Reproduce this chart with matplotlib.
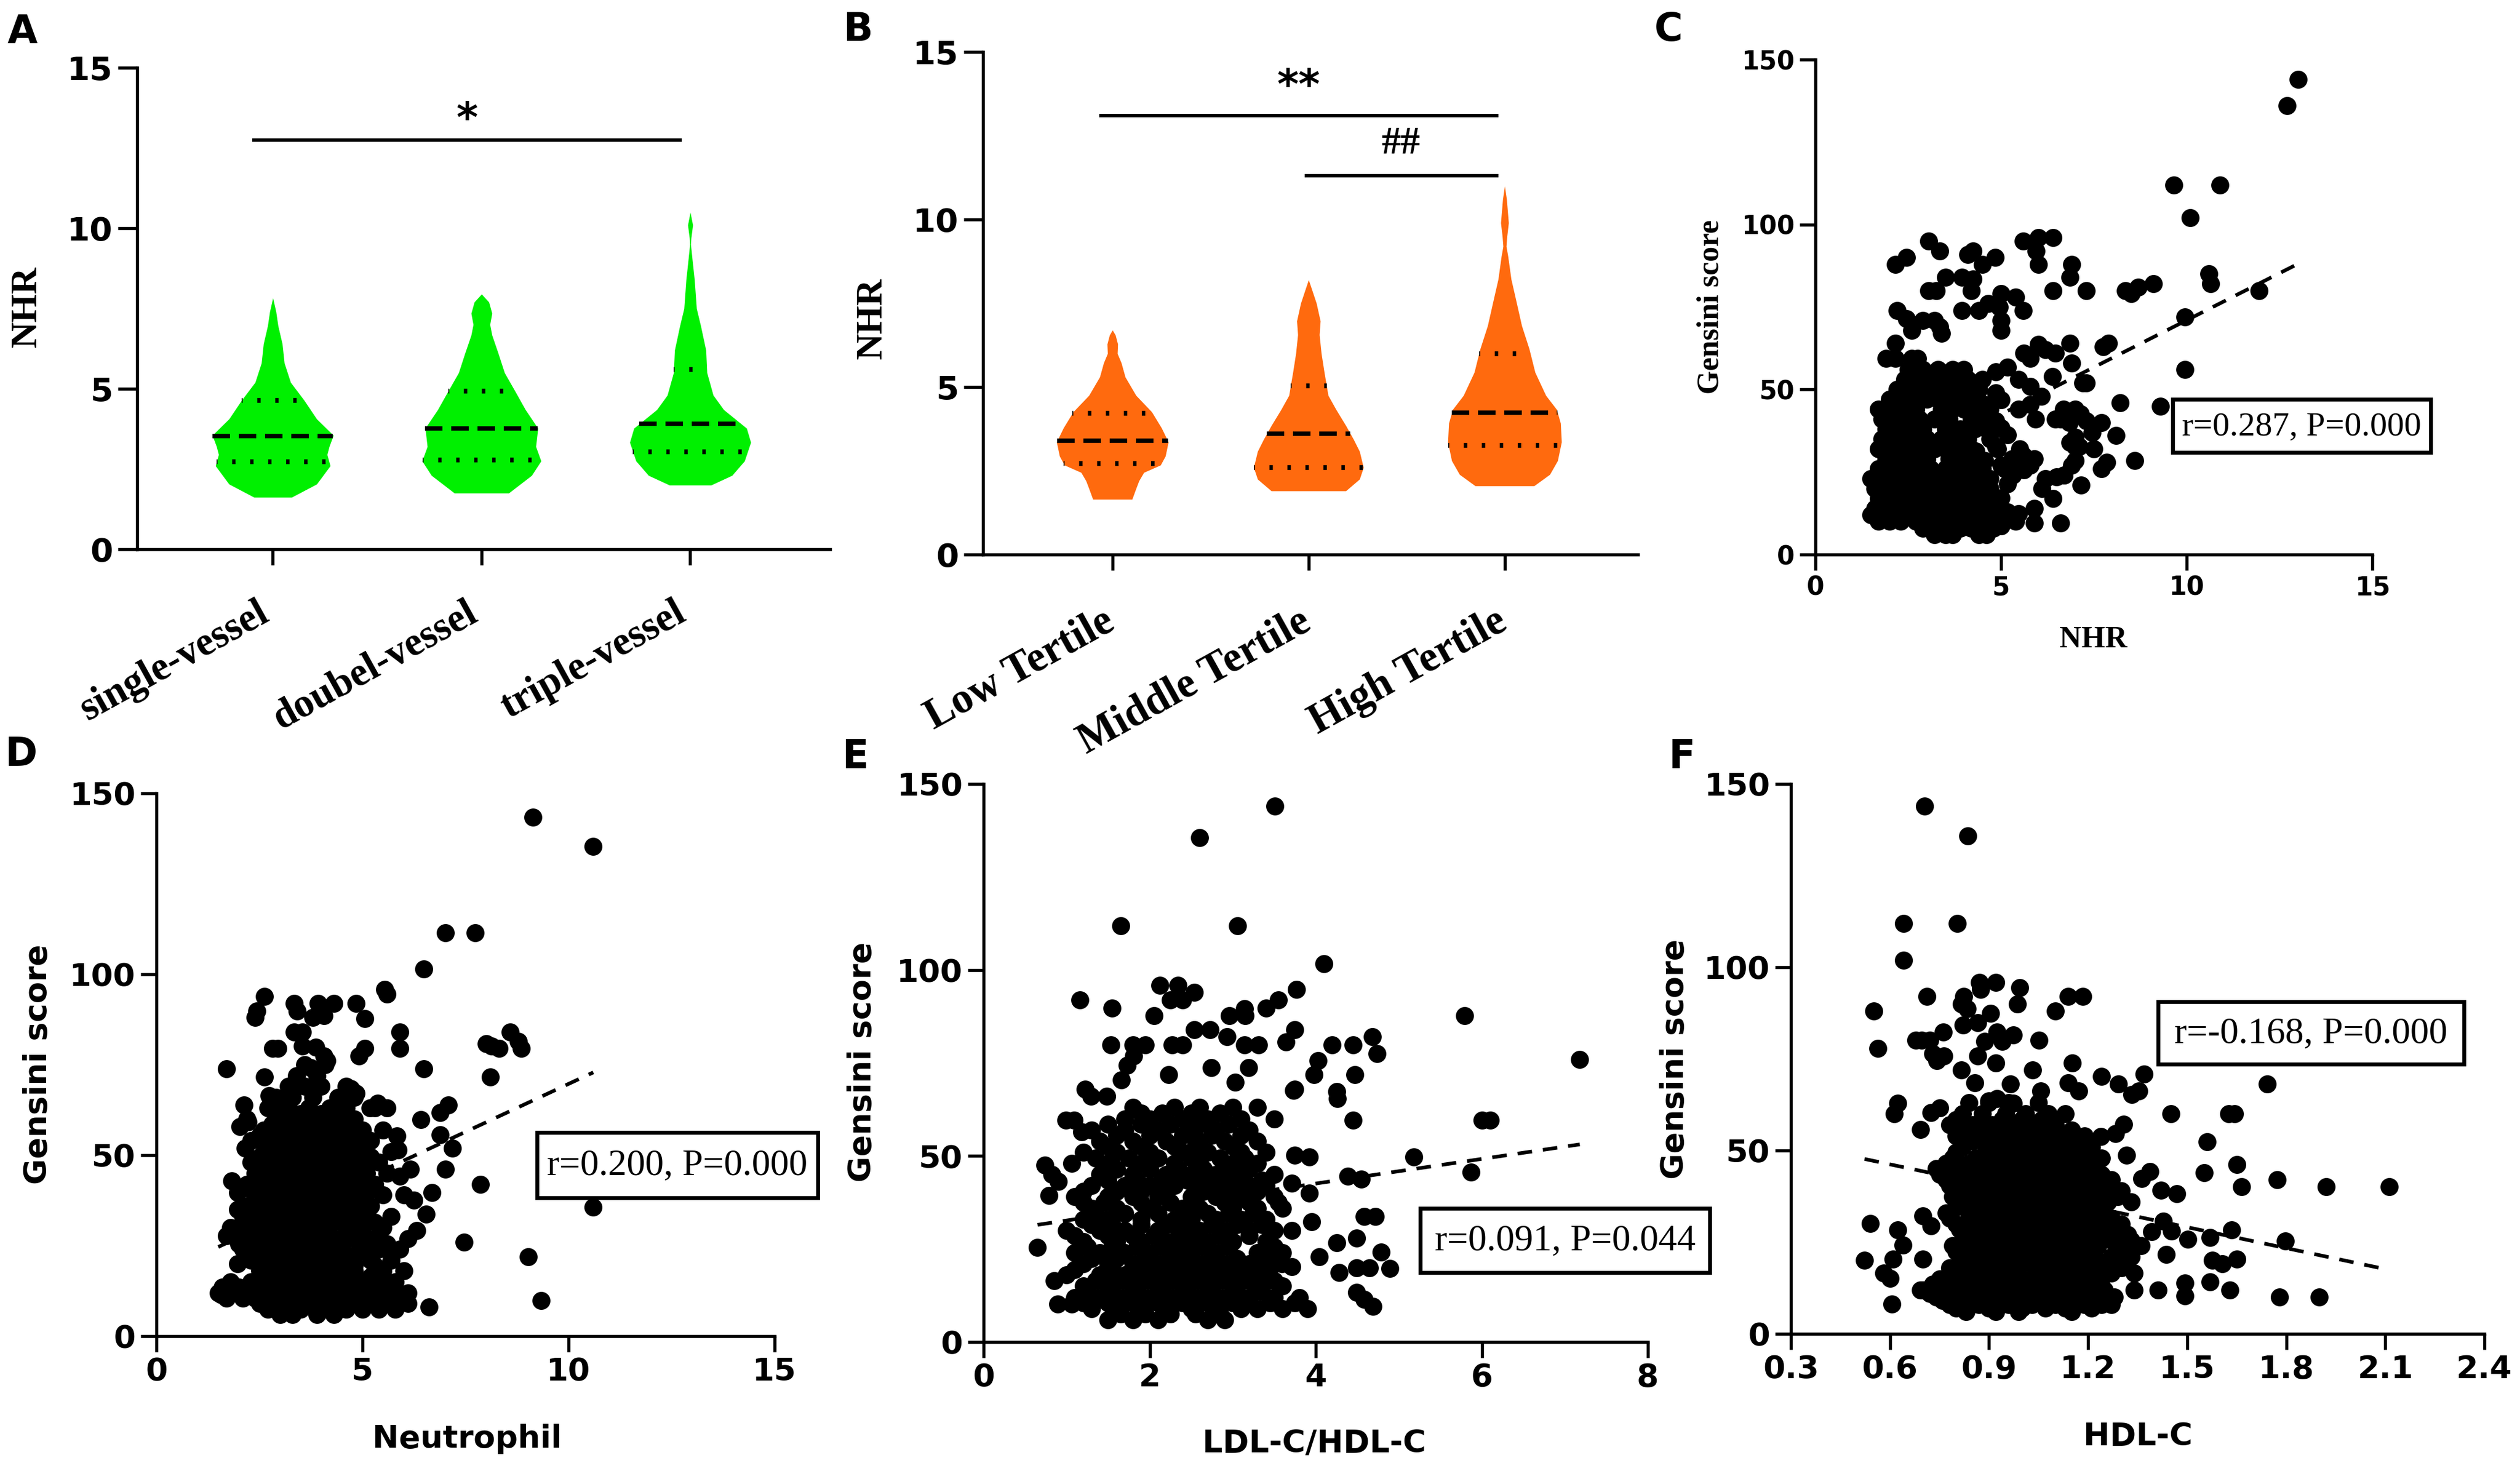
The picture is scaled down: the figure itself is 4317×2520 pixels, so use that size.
import numpy as np
import matplotlib
matplotlib.use("Agg")
import matplotlib.pyplot as plt
from matplotlib.patches import Rectangle
from matplotlib.transforms import ScaledTranslation

# ---------------- data ----------------
# panel A: NHR by number of diseased vessels (violin outlines + quartiles)
a_groups = ["single-vessel", "doubel-vessel", "triple-vessel"]
a1_y = [1.62, 2.03, 2.6, 2.95, 3.2, 3.55, 4.06, 4.64, 5.2, 5.8, 6.4, 6.96, 7.4, 7.83]
a1_w = [0.09, 0.21, 0.275, 0.26, 0.27, 0.29, 0.21, 0.15, 0.085, 0.055, 0.045, 0.025, 0.015, 0.0]
a2_y = [1.75, 2.3, 2.75, 3.2, 3.77, 4.35, 4.93, 5.5, 6.1, 6.67, 7.0, 7.35, 7.7, 7.95]
a2_w = [0.13, 0.24, 0.285, 0.26, 0.27, 0.21, 0.16, 0.11, 0.08, 0.05, 0.04, 0.05, 0.035, 0.0]
a3_y = [2.0, 2.3, 2.75, 3.33, 3.77, 4.35, 4.8, 5.5, 6.2, 6.96, 7.5, 8.4, 9.0, 9.5, 9.7, 10.1, 10.5]
a3_w = [0.1, 0.2, 0.26, 0.29, 0.27, 0.16, 0.11, 0.08, 0.075, 0.05, 0.03, 0.02, 0.01, 0.002, 0.004, 0.012, 0.0]
a_median = [3.52, 3.77, 3.91]
a_q1 = [2.72, 2.78, 3.04]
a_q3 = [4.64, 4.93, 5.6]

# panel B: NHR by Gensini tertile
b_groups = ["Low Tertile", "Middle Tertile", "High Tertile"]
b1_y = [1.65, 1.97, 2.2, 2.45, 2.67, 2.94, 3.36, 3.78, 4.26, 4.75, 5.3, 5.72, 6.0, 6.28, 6.55, 6.7]
b1_w = [0.1, 0.12, 0.135, 0.16, 0.245, 0.27, 0.285, 0.25, 0.2, 0.12, 0.065, 0.045, 0.025, 0.027, 0.015, 0.0]
b2_y = [1.9, 2.25, 2.6, 3.08, 3.43, 3.85, 4.33, 4.75, 5.44, 6.0, 6.56, 6.97, 7.5, 7.94, 8.2]
b2_w = [0.19, 0.26, 0.28, 0.26, 0.23, 0.19, 0.14, 0.1, 0.08, 0.065, 0.055, 0.06, 0.04, 0.015, 0.0]
b3_y = [2.05, 2.39, 2.8, 3.36, 3.92, 4.33, 4.75, 5.44, 6.14, 6.83, 7.53, 8.22, 8.9, 9.2, 9.5, 9.9, 10.6, 11.0]
b3_w = [0.15, 0.23, 0.27, 0.29, 0.285, 0.265, 0.21, 0.155, 0.125, 0.087, 0.06, 0.033, 0.017, 0.008, 0.012, 0.02, 0.01, 0.0]
b_median = [3.39, 3.61, 4.24]
b_q1 = [2.72, 2.6, 3.25]
b_q3 = [4.22, 5.03, 6.0]

# panel C: Gensini score vs NHR
c_pts = [(13.0, 144), (12.7, 136), (9.65, 112), (10.9, 112), (10.1, 102), (9.95, 56), (9.95, 72),
         (10.6, 85), (10.65, 82), (11.95, 80), (9.3, 45), (8.6, 28.5), (9.1, 82), (8.7, 81), (8.5, 79),
         (8.35, 80), (8.2, 46), (8.1, 36), (7.85, 28), (7.7, 26), (7.7, 40), (7.5, 32), (7.15, 21),
         (7.3, 52), (7.2, 52), (7.0, 44), (6.9, 58), (6.85, 64), (6.9, 88), (6.85, 84), (7.3, 80),
         (7.75, 63), (7.9, 64), (6.4, 96), (6.0, 96), (5.6, 95), (6.0, 88), (5.95, 92), (6.4, 80),
         (6.6, 9.5), (6.4, 17), (6.7, 24), (6.85, 34), (7.0, 28.5), (5.9, 9.5), (5.9, 14), (5.4, 78),
         (5.6, 74), (5.0, 79), (4.95, 75), (5.0, 71), (5.0, 68), (4.85, 90), (4.5, 88), (4.25, 92),
         (4.1, 91), (3.95, 84), (3.35, 92), (3.05, 95), (2.15, 88), (2.45, 90), (3.05, 80), (3.25, 80),
         (3.5, 84), (4.2, 80), (4.25, 83.5), (3.95, 74), (4.4, 74), (4.65, 76), (2.2, 74), (2.45, 71.5),
         (2.6, 68), (2.9, 71), (3.2, 71), (3.35, 69), (3.4, 67), (2.15, 64), (2.15, 59.5), (2.6, 59.5),
         (2.75, 59.5), (1.9, 59.5),
         (6.0, 63.7), (6.2, 62), (6.46, 61), (5.78, 59.5), (5.62, 61), (5.17, 56.7), (4.86, 55.3),
         (5.47, 53), (5.78, 51), (6.38, 54), (6.08, 48), (5.78, 45.4), (5.47, 44), (5.0, 46.8),
         (4.86, 49), (4.56, 45.4), (4.48, 41), (4.86, 40.5), (5.0, 38.4), (5.17, 36.2), (5.93, 41),
         (6.46, 41), (6.69, 44), (6.6, 41), (6.84, 40), (7.14, 42.6), (7.3, 40.5), (7.45, 37),
         (7.0, 35.5), (7.0, 32.7), (7.1, 32.7), (6.9, 27), (6.7, 24), (6.5, 23.5), (6.2, 23),
         (6.1, 20), (5.78, 27), (5.6, 30), (5.47, 28.5), (5.62, 25.7), (5.32, 24), (5.0, 27),
         (5.17, 21.4), (5.0, 17.2), (4.7, 14.4), (4.86, 11.6), (5.17, 13), (5.32, 11), (5.47, 12.3),
         (4.56, 8.7), (4.4, 6), (5.0, 8.7), (4.33, 31.3), (4.7, 35), (4.56, 38.4), (4.26, 44),
         (4.86, 32.7), (4.56, 28.5), (4.26, 23), (4.7, 20)]
c_rows = [(6, [3.2, 3.5, 3.7, 4.6]),
          (8, [2.9, 3.3, 3.6, 3.9, 4.2, 4.8]),
          (10, [1.7, 2.0, 2.3, 2.7, 3.0, 3.4, 3.8, 4.1, 4.4, 5.1, 5.4]),
          (12, [1.5, 1.8, 2.2, 2.5, 2.8, 3.1, 3.5, 3.9, 4.3, 4.6, 5.3]),
          (14, [1.6, 2.0, 2.4, 2.7, 3.0, 3.3, 3.7, 4.0, 4.5, 4.9]),
          (17, [1.7, 2.1, 2.5, 2.8, 3.2, 3.6, 3.9, 4.2, 4.6]),
          (20, [1.6, 1.9, 2.3, 2.6, 3.0, 3.4, 3.7, 4.1, 4.4]),
          (23, [1.5, 1.8, 2.2, 2.5, 2.9, 3.3, 3.6, 4.0, 4.3, 4.7]),
          (26, [1.7, 2.0, 2.4, 2.7, 3.1, 3.5, 3.8, 4.2, 4.5, 5.1, 5.6]),
          (29, [1.9, 2.3, 2.6, 3.0, 3.6, 3.9, 4.3, 5.3, 5.9]),
          (32, [1.7, 2.1, 2.5, 2.8, 3.2, 3.5, 3.9, 4.2, 4.9, 5.5]),
          (35, [1.8, 2.2, 2.6, 3.0, 3.4, 3.8, 4.1]),
          (38, [1.9, 2.3, 2.7, 2.9, 3.5, 3.9, 4.3]),
          (41, [1.8, 2.2, 2.5, 2.8, 3.2, 3.6, 4.2, 4.5]),
          (44, [1.7, 2.1, 2.4, 2.7, 3.4, 3.7, 4.0, 4.3, 4.7]),
          (47, [2.0, 2.3, 2.6, 3.0, 3.3, 3.6, 3.9, 4.2]),
          (50, [2.2, 2.6, 2.9, 3.2, 3.6, 4.0, 4.4]),
          (53, [2.4, 2.7, 3.1, 3.4, 3.8, 4.1, 4.5]),
          (56, [2.5, 2.9, 3.3, 3.7, 4.0])]
c_fit = (5.7, 14.0)          # slope, intercept of dashed line
c_stat = "r=0.287, P=0.000"

# panel D: Gensini score vs neutrophil
d_pts = [(9.13, 143.4), (10.59, 135.3), (7.01, 111.5), (7.73, 111.5), (6.49, 101.4), (5.54, 95.8),
         (5.6, 94.5), (8.58, 84), (8.78, 81.4), (8.0, 80.8), (8.13, 80.1), (8.32, 79.5), (8.85, 79.5),
         (5.9, 84), (5.9, 79.5), (6.49, 73.9), (8.1, 71.6), (7.08, 63.8), (6.88, 61.8), (6.42, 59.9),
         (6.88, 55.6), (7.18, 52), (7.01, 46.1), (7.86, 42), (10.6, 35.7), (7.47, 25.9), (9.02, 22),
         (9.34, 9.9), (6.62, 8), (6.68, 39.6), (6.55, 33.7), (6.32, 29.2), (6.25, 37.6), (6.16, 46.1),
         (5.9, 44.2), (5.86, 51.4), (5.83, 55.3), (5.6, 63.1), (5.37, 64.4), (5.18, 63.1), (4.85, 67.1),
         (4.72, 68.4), (1.7, 73.9), (4.85, 91.9), (5.05, 87.7), (4.92, 77.5), (5.05, 79.5), (2.62, 93.9),
         (2.43, 89.9), (2.39, 88), (3.34, 91.9), (3.41, 89.9), (3.93, 91.9), (4.3, 91.9), (3.8, 88),
         (4.06, 88.6), (3.34, 84), (3.54, 84), (2.82, 79.5), (2.95, 79.5), (3.54, 80.1), (3.87, 79.9),
         (4.06, 77.5), (4.13, 76.2), (2.62, 71.6), (3.74, 74.2), (2.73, 66.4), (2.12, 63.8),
         (2.23, 59.2), (2.03, 57.9), (2.16, 52), (1.83, 42.9), (1.97, 39.6), (1.97, 35), (2.1, 33.1),
         (1.7, 27.8), (1.97, 20), (1.57, 11.5)]
d_rows = [(6, [3.0, 3.3, 3.9, 4.3]),
          (7.5, [2.7, 3.1, 3.5, 4.1, 4.6, 5.0, 5.4, 5.8]),
          (9, [2.5, 2.8, 3.2, 3.6, 4.0, 4.4, 4.8, 5.2, 5.6, 6.1]),
          (10.5, [1.7, 2.1, 2.4, 2.75, 3.1, 3.5, 3.9, 4.3, 4.7, 5.1, 5.5, 5.9]),
          (12, [1.5, 1.9, 2.2, 2.6, 2.9, 3.3, 3.7, 4.1, 4.5, 4.9, 5.3, 5.7, 6.1]),
          (13.5, [1.6, 2.0, 2.5, 2.85, 3.2, 3.6, 4.0, 4.4, 4.8, 5.2, 5.6]),
          (15, [1.8, 2.3, 2.7, 3.0, 3.4, 3.8, 4.2, 4.6, 5.0, 5.4, 5.8]),
          (16.5, [2.6, 3.0, 3.4, 3.8, 4.2, 4.6, 5.2]),
          (18, [2.5, 2.8, 3.2, 3.6, 4.0, 4.4, 4.8, 5.5, 6.0]),
          (19.5, [2.5, 2.9, 3.2, 3.6, 4.0, 4.4, 4.8, 5.3]),
          (21, [2.3, 2.7, 3.0, 3.4, 3.8, 4.2, 4.6, 5.2, 5.7]),
          (22.5, [2.4, 2.8, 3.2, 3.6, 4.0, 4.4, 4.8]),
          (24, [2.1, 2.5, 2.9, 3.3, 3.7, 4.1, 4.5, 5.0, 5.4, 5.9]),
          (25.5, [2.0, 2.5, 2.9, 3.2, 3.6, 4.0, 4.4, 5.1, 5.6]),
          (27, [2.3, 2.7, 3.1, 3.5, 3.9, 4.3, 4.8, 5.3, 6.1]),
          (28.5, [2.1, 2.5, 2.9, 3.3, 3.7, 4.1, 4.6]),
          (30, [1.8, 2.6, 2.9, 3.3, 3.7, 4.1, 4.6, 5.0, 5.5]),
          (31.5, [2.2, 2.6, 3.0, 3.5, 3.9, 4.3, 4.8, 5.3]),
          (33, [2.4, 2.8, 3.2, 3.6, 4.0, 4.4, 4.9, 5.7]),
          (34.5, [2.6, 3.0, 3.4, 3.8, 4.2, 4.6, 5.1]),
          (36, [2.2, 2.6, 3.0, 3.4, 3.8, 4.2, 4.7, 5.2]),
          (37.5, [2.4, 2.8, 3.2, 3.6, 4.0, 4.4, 4.9]),
          (39, [2.5, 2.9, 3.3, 3.6, 4.1, 4.5, 5.0, 5.5, 6.0]),
          (40.5, [2.3, 2.7, 3.1, 3.5, 3.9, 4.3, 4.7, 5.2]),
          (42, [2.2, 2.7, 3.1, 3.5, 3.9, 4.3, 4.8, 5.3]),
          (43.5, [2.5, 2.9, 3.3, 3.7, 4.1, 4.5, 5.0]),
          (45, [2.4, 2.8, 3.2, 3.7, 4.1, 4.6, 5.1, 5.6]),
          (46.5, [2.6, 3.0, 3.4, 3.9, 4.3, 4.8]),
          (48, [2.3, 2.7, 3.0, 3.5, 3.9, 4.4, 4.9, 5.4]),
          (49.5, [2.5, 2.9, 3.3, 3.8, 4.2, 4.7, 5.2]),
          (51, [2.6, 3.1, 3.5, 4.0, 4.5, 5.0, 5.7]),
          (52.5, [2.8, 3.3, 3.7, 4.2, 4.6]),
          (54, [2.3, 2.8, 3.3, 3.8, 4.3, 4.7, 5.2]),
          (55.5, [2.5, 3.0, 3.5, 4.0, 4.9]),
          (57, [2.6, 3.1, 3.6, 4.1, 4.5, 5.0, 5.5]),
          (58.5, [2.8, 3.3, 3.8, 4.2, 4.7]),
          (60, [2.2, 2.9, 3.4, 3.9, 4.3, 4.8]),
          (61.5, [3.0, 3.5, 4.0, 4.4]),
          (63, [2.7, 3.2, 3.7, 4.2, 4.6, 5.3]),
          (66, [2.9, 3.3, 3.8, 4.4, 4.8]),
          (69, [3.2, 3.6, 4.0, 4.6]),
          (72, [3.4, 3.9]),
          (75, [3.6, 4.1])]
d_fit = (5.3, 16.7)
d_stat = "r=0.200, P=0.000"

# panel E: Gensini score vs LDL-C/HDL-C
e_pts = [(3.51, 144), (2.6, 135.6), (1.65, 111.8), (3.06, 111.8), (4.1, 101.7), (5.79, 87.7),
         (7.18, 75.9), (6.0, 59.7), (6.1, 59.7), (5.18, 49.8), (5.87, 45.7), (1.16, 91.9), (1.55, 89.8),
         (2.12, 95.9), (2.34, 95.9), (2.54, 94), (2.05, 87.7), (2.25, 91.9), (2.4, 91.9), (2.54, 83.9),
         (2.73, 83.9), (2.93, 82), (2.96, 87.7), (3.14, 89.6), (3.15, 87.7), (3.4, 89.8), (3.55, 91.9),
         (3.77, 94.7), (3.75, 83.9), (3.64, 80.7), (3.31, 79.8), (3.14, 79.8), (1.53, 79.8), (1.8, 79.8),
         (1.95, 79.8), (2.27, 79.8), (2.4, 79.8), (1.81, 76.9), (1.73, 74.3), (1.66, 70.5), (2.23, 71.8),
         (2.74, 73.7), (3.19, 73.7), (3.03, 69.9), (4.03, 75.6), (3.98, 71.8), (4.2, 79.8), (4.45, 79.8),
         (4.68, 82), (4.74, 77.5), (4.47, 71.8), (3.73, 67.6), (4.25, 67.3), (4.26, 65.4), (4.45, 59.7),
         (4.39, 44.5), (4.55, 43.8), (4.58, 33.7), (4.72, 33.7), (4.25, 26.7), (4.28, 18.7), (4.49, 28),
         (4.49, 19.9), (4.65, 19.9), (4.79, 24.1), (4.89, 19.7), (4.49, 13.3), (4.58, 11.4), (4.69, 9.5),
         (4.04, 22.9), (3.95, 32.4), (3.92, 40), (3.71, 29.9), (3.59, 21), (3.71, 20.3), (3.75, 50.2),
         (3.92, 49.8), (3.71, 42.6), (3.75, 68), (1.22, 68), (1.29, 66.1), (1.48, 66.1), (0.99, 59.7),
         (1.09, 59.7), (1.18, 56.5), (0.74, 47.6), (0.82, 45.1), (0.9, 43.2), (0.79, 39.4), (0.65, 25.4),
         (1.06, 48), (0.85, 16.5), (0.89, 10.2), (1.06, 10.2)]
e_rows = [(6, [1.5, 1.8, 2.1, 2.7, 2.9]),
          (7.5, [1.65, 1.95, 2.25, 2.55, 2.85]),
          (9, [1.3, 1.6, 1.9, 2.2, 2.5, 2.8, 3.1, 3.3, 3.6, 3.9]),
          (10.5, [1.2, 1.5, 1.8, 2.1, 2.4, 2.7, 3.0, 3.45, 3.75]),
          (12, [1.1, 1.4, 1.7, 2.0, 2.3, 2.6, 2.9, 3.2, 3.5, 3.8]),
          (13.5, [1.25, 1.55, 1.85, 2.15, 2.45, 2.75, 3.05, 3.35]),
          (15, [1.2, 1.5, 1.8, 2.1, 2.4, 2.7, 3.0, 3.3, 3.6]),
          (16.5, [1.35, 1.65, 1.95, 2.25, 2.55, 2.85, 3.2, 3.5]),
          (18, [1.0, 1.4, 1.7, 2.0, 2.3, 2.5, 2.8, 3.1, 3.4]),
          (19.5, [1.1, 1.55, 1.85, 2.15, 2.45, 2.65, 2.95, 3.3]),
          (21, [1.2, 1.5, 1.8, 2.1, 2.4, 2.6, 2.9, 3.2, 3.5]),
          (22.5, [1.3, 1.6, 1.95, 2.25, 2.5, 2.75, 3.05, 3.4]),
          (24, [1.1, 1.4, 1.7, 2.0, 2.3, 2.5, 2.8, 3.3, 3.6]),
          (25.5, [1.25, 1.55, 1.85, 2.15, 2.4, 2.65, 2.95, 3.5]),
          (27, [1.2, 1.6, 1.9, 2.2, 2.5, 2.7, 3.0, 3.4]),
          (28.5, [1.1, 1.5, 1.8, 2.05, 2.35, 2.6, 2.85, 3.2]),
          (30, [1.0, 1.4, 1.7, 2.1, 2.4, 2.6, 2.9, 3.2, 3.5]),
          (31.5, [1.3, 1.55, 1.9, 2.2, 2.5, 2.75, 3.05, 3.35]),
          (33, [1.2, 1.5, 1.9, 2.3, 2.5, 2.8, 3.1, 3.4]),
          (34.5, [1.35, 1.7, 2.1, 2.45, 2.7, 2.95, 3.25]),
          (36, [1.3, 1.6, 2.0, 2.4, 2.6, 3.0, 3.3, 3.6]),
          (37.5, [1.2, 1.45, 1.9, 2.25, 2.55, 2.9, 3.2, 3.55]),
          (39, [1.1, 1.5, 1.8, 2.1, 2.5, 2.8, 3.1, 3.5]),
          (40.5, [1.2, 1.6, 1.9, 2.2, 2.65, 2.95, 3.3]),
          (42, [1.3, 1.7, 2.0, 2.3, 2.6, 2.9, 3.2, 3.4]),
          (43.5, [1.5, 1.85, 2.15, 2.45, 2.75, 3.05, 3.35]),
          (45, [1.4, 1.8, 2.2, 2.5, 2.8, 3.1, 3.5]),
          (46.5, [1.6, 2.0, 2.35, 2.65, 2.95, 3.2]),
          (48, [1.5, 1.9, 2.3, 2.6, 3.0, 3.3]),
          (49.5, [1.35, 1.75, 2.1, 2.5, 2.85, 3.15]),
          (51, [1.2, 1.6, 2.0, 2.4, 2.7, 3.1, 3.4]),
          (52.5, [1.5, 1.9, 2.3, 2.55, 3.0]),
          (54, [1.4, 1.8, 2.2, 2.6, 2.9, 3.3]),
          (55.5, [1.6, 2.0, 2.4, 2.75, 3.1]),
          (57, [1.3, 1.7, 2.1, 2.5, 2.8, 3.2]),
          (58.5, [1.5, 1.9, 2.25, 2.6, 2.95]),
          (60, [1.7, 2.0, 2.4, 2.7, 3.1, 3.5]),
          (61.5, [1.9, 2.15, 2.5, 2.85]),
          (63, [1.8, 2.3, 2.6, 3.0, 3.3])]
e_fit = (3.31, 29.35)
e_stat = "r=0.091, P=0.044"

# panel F: Gensini score vs HDL-C
f_pts = [(0.704, 143.9), (0.836, 135.8), (0.642, 112), (0.803, 112), (0.642, 101.9), (0.551, 88),
         (0.563, 77.8), (0.712, 92), (0.92, 95.8), (0.874, 94.5), (0.993, 94.5), (0.985, 90), (1.1, 88.1),
         (1.139, 92), (1.183, 92), (1.051, 80.1), (1.031, 72), (1.152, 73.9), (1.172, 66.2),
         (1.139, 68.4), (1.056, 66.2), (1.241, 70.3), (1.291, 68.1), (1.332, 65.3), (1.353, 66.2),
         (1.37, 70.9), (1.742, 68.1), (1.45, 60.1), (1.626, 60.1), (1.643, 60.1), (1.56, 52.4),
         (1.651, 46.2), (1.552, 44), (1.664, 40.1), (1.772, 42), (1.921, 40.1), (2.111, 40.1),
         (1.469, 38.2), (1.797, 25.3), (1.569, 26.2), (1.634, 28.4), (1.651, 20.4), (1.577, 20.1),
         (1.607, 19.1), (1.569, 14.2), (1.63, 12), (1.78, 10.1), (1.9, 10.1), (1.494, 13.9),
         (1.494, 10.4), (1.411, 12), (1.34, 12), (1.502, 25.8), (1.428, 30.7), (1.453, 28.1),
         (1.436, 21.7), (1.34, 16.5), (1.392, 27.9), (1.387, 44.2), (1.42, 39.1), (1.362, 42.3),
         (1.317, 48.8), (1.308, 57.1), (1.282, 54.6), (1.238, 53.9), (0.54, 30.1), (0.523, 20.1),
         (0.581, 16.5), (0.601, 15.2), (0.606, 8.1), (0.623, 28.4), (0.64, 24.2), (0.61, 20.4),
         (0.623, 62.9), (0.613, 60.1), (0.692, 55.8), (0.725, 60.4), (0.75, 61.7), (0.692, 12),
         (0.7, 20.4), (0.725, 29.4), (0.7, 32.2), (0.679, 80.1), (0.696, 80.1), (0.72, 80.1),
         (0.73, 76.5), (0.742, 74.6), (0.763, 75.8), (0.761, 82.3), (0.816, 72), (0.821, 84.2),
         (0.866, 84.9), (0.886, 79.7), (0.866, 75.8), (0.924, 82.3), (0.94, 79.7), (0.973, 81.6),
         (0.92, 73.9), (0.816, 90), (0.833, 88.7), (0.824, 92), (0.904, 87.4), (0.871, 95.8),
         (0.874, 93.9), (0.857, 68.4), (0.899, 63.6), (0.924, 64.2), (0.973, 62.9), (0.965, 68.1)]
f_rows = [(6, [0.83, 0.92, 0.99, 1.15]),
          (7, [0.8, 0.9, 1.0, 1.07, 1.13, 1.21]),
          (8, [0.78, 0.87, 0.96, 1.03, 1.1, 1.19, 1.24, 1.27]),
          (9, [0.76, 0.84, 0.91, 0.97, 1.04, 1.09, 1.15, 1.2, 1.26]),
          (10, [0.74, 0.81, 0.88, 0.94, 1.0, 1.06, 1.12, 1.17, 1.22, 1.28]),
          (11, [0.72, 0.79, 0.86, 0.92, 0.99, 1.05, 1.11, 1.16, 1.23]),
          (12, [0.7, 0.77, 0.84, 0.9, 0.97, 1.03, 1.09, 1.14, 1.2, 1.25]),
          (13.5, [0.73, 0.8, 0.87, 0.93, 0.99, 1.05, 1.1, 1.16, 1.22]),
          (15, [0.75, 0.82, 0.88, 0.94, 1.0, 1.07, 1.13, 1.19, 1.24]),
          (16.5, [0.78, 0.85, 0.91, 0.97, 1.04, 1.1, 1.16, 1.21, 1.27]),
          (18, [0.78, 0.85, 0.91, 0.98, 1.04, 1.1, 1.16, 1.22, 1.3]),
          (19.5, [0.81, 0.88, 0.94, 1.01, 1.07, 1.13, 1.19, 1.25]),
          (21, [0.82, 0.88, 0.95, 1.01, 1.07, 1.13, 1.19, 1.27, 1.33]),
          (22.5, [0.8, 0.85, 0.91, 0.98, 1.04, 1.1, 1.16, 1.22, 1.3]),
          (24, [0.79, 0.86, 0.92, 0.98, 1.04, 1.1, 1.16, 1.23, 1.3, 1.36]),
          (25.5, [0.82, 0.89, 0.95, 1.01, 1.07, 1.13, 1.2, 1.27, 1.33]),
          (27, [0.83, 0.89, 0.96, 1.02, 1.08, 1.14, 1.2, 1.26, 1.32]),
          (28.5, [0.81, 0.86, 0.92, 0.99, 1.05, 1.11, 1.17, 1.23, 1.29]),
          (30, [0.8, 0.87, 0.93, 0.99, 1.05, 1.11, 1.18, 1.24, 1.3]),
          (31.5, [0.78, 0.84, 0.9, 0.96, 1.02, 1.08, 1.14, 1.21, 1.27]),
          (33, [0.77, 0.84, 0.9, 0.97, 1.03, 1.09, 1.15, 1.21]),
          (34.5, [0.8, 0.87, 0.93, 1.0, 1.06, 1.12, 1.18, 1.24]),
          (36, [0.82, 0.88, 0.95, 1.01, 1.07, 1.13, 1.19, 1.26, 1.33]),
          (37.5, [0.79, 0.85, 0.91, 0.98, 1.04, 1.1, 1.16, 1.22, 1.29]),
          (39, [0.8, 0.86, 0.92, 0.99, 1.05, 1.11, 1.17, 1.23, 1.3]),
          (40.5, [0.78, 0.83, 0.89, 0.95, 1.02, 1.08, 1.14, 1.2, 1.26]),
          (42, [0.77, 0.84, 0.9, 0.96, 1.03, 1.09, 1.15, 1.21, 1.27]),
          (43.5, [0.75, 0.8, 0.87, 0.93, 0.99, 1.06, 1.12, 1.18, 1.24]),
          (45, [0.74, 0.81, 0.88, 0.94, 1.0, 1.07, 1.13, 1.19]),
          (46.5, [0.77, 0.84, 0.9, 0.97, 1.03, 1.1, 1.16, 1.22]),
          (48, [0.79, 0.86, 0.92, 0.98, 1.05, 1.11, 1.17, 1.24]),
          (49.5, [0.8, 0.89, 0.95, 1.01, 1.08, 1.14, 1.2]),
          (51, [0.82, 0.89, 0.95, 1.02, 1.08, 1.15, 1.21]),
          (52.5, [0.85, 0.92, 0.98, 1.05, 1.11, 1.18]),
          (54, [0.8, 0.87, 0.93, 1.0, 1.06, 1.12, 1.19]),
          (55.5, [0.82, 0.9, 0.96, 1.03, 1.09, 1.15]),
          (57, [0.78, 0.85, 0.91, 0.97, 1.04, 1.1]),
          (58.5, [0.8, 0.88, 0.94, 1.0, 1.06]),
          (60, [0.82, 0.88, 0.95, 1.01, 1.08, 1.13]),
          (63, [0.84, 0.9, 0.96, 1.05])]
f_fit = (-19.05, 57.66)
f_stat = "r=-0.168, P=0.000"

GREEN = "#00F000"
ORANGE = "#FF6A0E"

# ---------------- layout helpers (pixel geometry of the 4317x2520 canvas) ----------------
W, H = 4317, 2520
plt.rcParams["font.family"] = "DejaVu Sans"
plt.rcParams["font.weight"] = "bold"
SERIF = "Liberation Serif"

fig = plt.figure(figsize=(W / 300, H / 300), dpi=300)


def add_ax(l, t, r, b):
    ax = fig.add_axes([l / W, 1 - b / H, (r - l) / W, (b - t) / H])
    for s in ("top", "right"):
        ax.spines[s].set_visible(False)
    for s in ("left", "bottom"):
        ax.spines[s].set_linewidth(1.3)
    ax.tick_params(width=1.3, length=6.5, pad=2)
    return ax


def ftext(x, y, s, **kw):
    fig.text(x / W, 1 - y / H, s, **kw)


def rows_xy(pts, rows):
    xs = [p[0] for p in pts]
    ys = [p[1] for p in pts]
    for yv, xl in rows:
        xs += xl
        ys += [yv] * len(xl)
    return np.array(xs), np.array(ys)


def violin_panel(ax, profiles, med, q1, q3, color):
    for i, (yv, wv) in enumerate(profiles):
        yv = np.array(yv)
        wv = np.array(wv)
        ax.fill_betweenx(yv, i - wv, i + wv, color=color, lw=0, zorder=2)
        w = np.interp(med[i], yv, wv)
        ax.plot([i - w, i + w], [med[i]] * 2, color="k", lw=1.8,
                ls=(0, (4.0, 2.0)), zorder=3)
        for q in (q1[i], q3[i]):
            w = np.interp(q, yv, wv)
            ax.plot([i - w, i + w], [q] * 2, color="k", lw=2.0,
                    ls=(0.5, (0.7, 3.0)), zorder=3)


def scatter_panel(ax, xs, ys, fit, stat, box_px, fs):
    ax.scatter(xs, ys, s=55, color="k", linewidths=0, zorder=3)
    xl = np.array([xs.min(), xs.max()])
    ax.plot(xl, fit[0] * xl + fit[1], color="k", lw=1.5, ls=(0, (4, 3)), zorder=4)
    l, t, r, b = box_px
    fig.add_artist(Rectangle((l / W, 1 - b / H), (r - l) / W, (b - t) / H,
                             transform=fig.transFigure, fc="white", ec="k", lw=1.6, zorder=5))
    ftext((l + r) / 2, (t + b) / 2 + 2, stat, family=SERIF, weight="normal",
          fontsize=fs, ha="center", va="center", zorder=6)


# ---------------- panel A ----------------
axA = add_ax(235, 116, 1422, 941)
violin_panel(axA, [(a1_y, a1_w), (a2_y, a2_w), (a3_y, a3_w)], a_median, a_q1, a_q3, GREEN)
axA.set_xlim(-0.65, 2.67)
axA.set_ylim(0, 15)
axA.set_yticks([0, 5, 10, 15])
axA.tick_params(axis="y", labelsize=13.5, length=8)
axA.set_xticks(range(3))
axA.set_xticklabels(a_groups, family=SERIF, fontsize=16.5, rotation=29,
                    ha="right", va="top", rotation_mode="anchor")
axA.tick_params(axis="x", pad=12)
axA.plot([-0.09, 1.95], [12.75, 12.75], color="k", lw=1.4)
axA.text(0.93, 13.35, "*", ha="center", va="center", fontsize=17)

# ---------------- panel B ----------------
axB = add_ax(1684, 89, 2806, 950)
violin_panel(axB, [(b1_y, b1_w), (b2_y, b2_w), (b3_y, b3_w)], b_median, b_q1, b_q3, ORANGE)
axB.set_xlim(-0.66, 2.68)
axB.set_ylim(0, 15)
axB.set_yticks([0, 5, 10, 15])
axB.tick_params(axis="y", labelsize=13.5, length=8)
axB.set_xticks(range(3))
axB.set_xticklabels(b_groups, family=SERIF, fontsize=17.5, rotation=29,
                    ha="right", va="top", rotation_mode="anchor")
axB.tick_params(axis="x", pad=13)
axB.plot([-0.06, 1.96], [13.1, 13.1], color="k", lw=1.4)
axB.text(0.95, 13.95, "**", ha="center", va="center", fontsize=17)
axB.plot([0.99, 1.96], [11.3, 11.3], color="k", lw=1.4)
axB.text(1.47, 12.25, "##", ha="center", va="center", fontsize=16, family=SERIF)

for ax, shift in ((axA, -0.09), (axB, -0.06)):
    for lab in ax.get_xticklabels():
        lab.set_transform(lab.get_transform() + ScaledTranslation(shift, 0, fig.dpi_scale_trans))

# ---------------- scatter panels ----------------
axC = add_ax(3110, 102, 4064, 950)
cx, cy = rows_xy(c_pts, c_rows)
scatter_panel(axC, cx, cy, c_fit, c_stat, (3722, 684, 4164, 775), 14)
axC.set_xlim(0, 15)
axC.set_xticks([0, 5, 10, 15])
axC.tick_params(labelsize=10.5)

axD = add_ax(268, 1359, 1327, 2289)
dx, dy = rows_xy(d_pts, d_rows)
scatter_panel(axD, dx, dy, d_fit, d_stat, (920, 1940, 1401, 2052), 15.3)
axD.set_xlim(0, 15)
axD.set_xticks([0, 5, 10, 15])

axE = add_ax(1685, 1343, 2823, 2299)
ex, ey = rows_xy(e_pts, e_rows)
scatter_panel(axE, ex, ey, e_fit, e_stat, (2433, 2070, 2929, 2180), 15.3)
axE.set_xlim(0, 8)
axE.set_xticks([0, 2, 4, 6, 8])

axF = add_ax(3068, 1343, 4256, 2285)
fx_, fy_ = rows_xy(f_pts, f_rows)
scatter_panel(axF, fx_, fy_, f_fit, f_stat, (3697, 1716, 4221, 1823), 15.3)
axF.set_xlim(0.3, 2.4)
axF.set_xticks([0.3, 0.6, 0.9, 1.2, 1.5, 1.8, 2.1, 2.4])
axF.set_xticklabels(["0.3", "0.6", "0.9", "1.2", "1.5", "1.8", "2.1", "2.4"])

for ax in (axC, axD, axE, axF):
    ax.set_ylim(0, 150)
    ax.set_yticks([0, 50, 100, 150])
for ax in (axD, axE, axF):
    ax.tick_params(labelsize=13)

# ---------------- axis titles ----------------
ftext(47, 525, "NHR", family=SERIF, fontsize=15, rotation=90, ha="center", va="center")
ftext(1495, 545, "NHR", family=SERIF, fontsize=15, rotation=90, ha="center", va="center")
ftext(2930, 526, "Gensini score", family=SERIF, fontsize=12.5, rotation=90, ha="center", va="center")
ftext(3586, 1096, "NHR", family=SERIF, fontsize=12.5, ha="center", va="center")
ftext(65, 1823, "Gensini score", fontsize=13, rotation=90, ha="center", va="center")
ftext(800, 2465, "Neutrophil", fontsize=13, ha="center", va="center")
ftext(1477, 1819, "Gensini score", fontsize=13, rotation=90, ha="center", va="center")
ftext(2251, 2473, "LDL-C/HDL-C", fontsize=13, ha="center", va="center")
ftext(2869, 1814, "Gensini score", fontsize=13, rotation=90, ha="center", va="center")
ftext(3662, 2461, "HDL-C", fontsize=13, ha="center", va="center")

# ---------------- panel letters ----------------
for letter, x, y in [("A", 13, 22), ("B", 1445, 18), ("C", 2834, 18),
                     ("D", 9, 1260), ("E", 1443, 1264), ("F", 2859, 1264)]:
    ftext(x, y, letter, fontsize=16, ha="left", va="top")

fig.savefig("out.png", dpi=300)
